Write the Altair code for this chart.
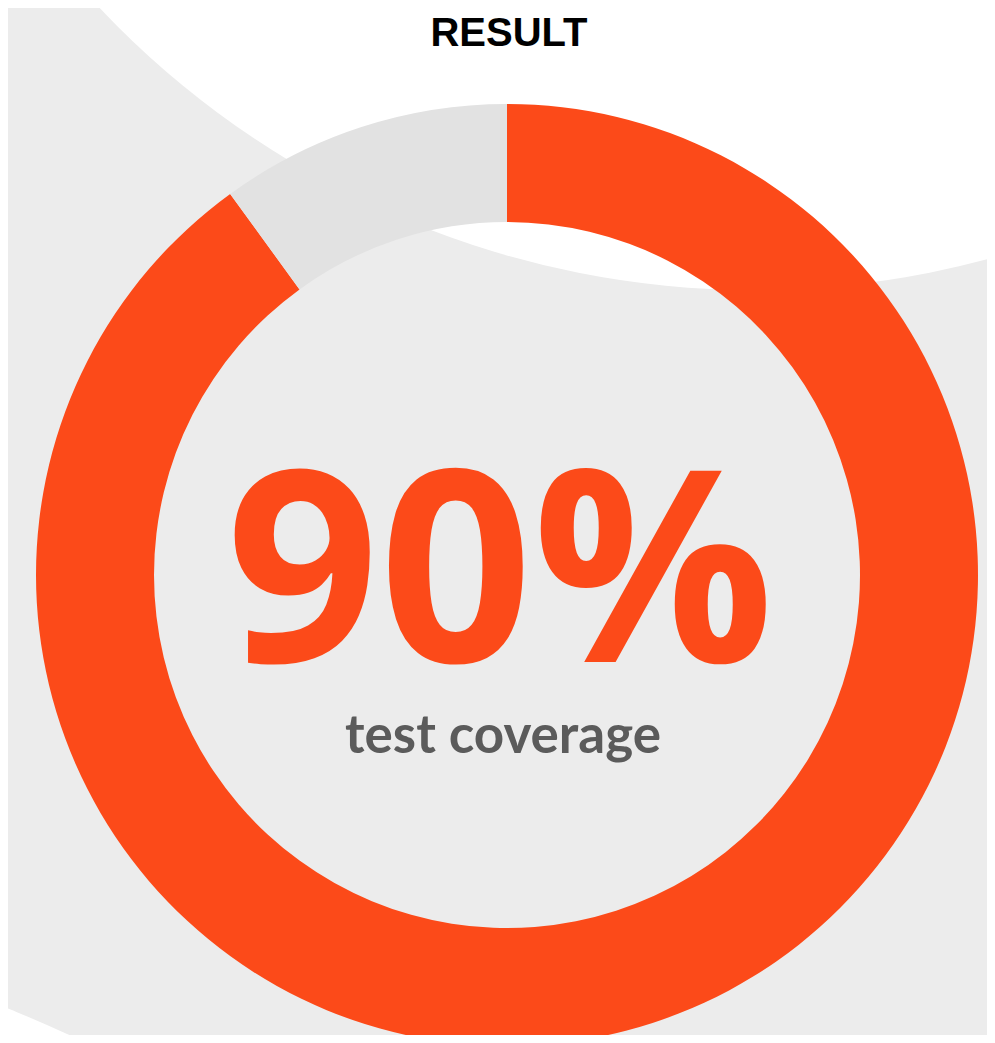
import math
import altair as alt
import pandas as pd

# ---- data ----
parts = ["covered", "uncovered"]
shares = [90, 10]
part_order = [1, 2]
title_text = ["RESULT"]
big_label = [f"{shares[0]}%"]
sub_label = ["test coverage"]

ORANGE = "#FC4A19"
RING_GREY = "#E2E2E2"
BG_GREY = "#ECECEC"
TEXT_GREY = "#5B5B5B"

W, H = 979, 1027
CX, CY = 499, 567

donut_df = pd.DataFrame({"part": parts, "share": shares, "ord": part_order})
one = pd.DataFrame({"k": [0]})

# decorative white shapes over the grey background
white_top = alt.Chart(one).mark_arc(
    theta=0, theta2=2 * math.pi, radius=900, color="white", clip=True
).encode(x=alt.value(746), y=alt.value(-618))

white_bottom = alt.Chart(one).mark_arc(
    theta=0, theta2=2 * math.pi, radius=1500, color="white", clip=True
).encode(x=alt.value(-565), y=alt.value(2390))

donut = alt.Chart(donut_df).mark_arc(radius=471, radius2=353, clip=True).encode(
    theta=alt.Theta("share:Q", stack=True),
    color=alt.Color("part:N", scale=alt.Scale(domain=parts, range=[ORANGE, RING_GREY]), legend=None),
    order=alt.Order("ord:Q"),
    x=alt.value(CX),
    y=alt.value(CY),
)

title = alt.Chart(pd.DataFrame({"t": title_text})).mark_text(
    font="Liberation Sans", fontWeight="bold", fontSize=40, color="black",
    align="center", baseline="alphabetic"
).encode(text="t:N", x=alt.value(501), y=alt.value(38))

big = alt.Chart(pd.DataFrame({"t": big_label})).mark_text(
    font="Open Sans", fontWeight="bold", fontSize=268, color=ORANGE,
    align="center", baseline="alphabetic"
).encode(text="t:N", x=alt.value(492), y=alt.value(654))

sub = alt.Chart(pd.DataFrame({"t": sub_label})).mark_text(
    font="Lato", fontWeight="bold", fontSize=53, color=TEXT_GREY,
    align="center", baseline="alphabetic"
).encode(text="t:N", x=alt.value(495), y=alt.value(745))

chart = alt.layer(white_top, white_bottom, donut, title, big, sub).properties(
    width=W, height=H, padding=0, background=BG_GREY,
    autosize=alt.AutoSizeParams(type="none"),
).configure_view(stroke=None)

chart.save("out.html", embed_options={"renderer": "svg", "actions": False})
